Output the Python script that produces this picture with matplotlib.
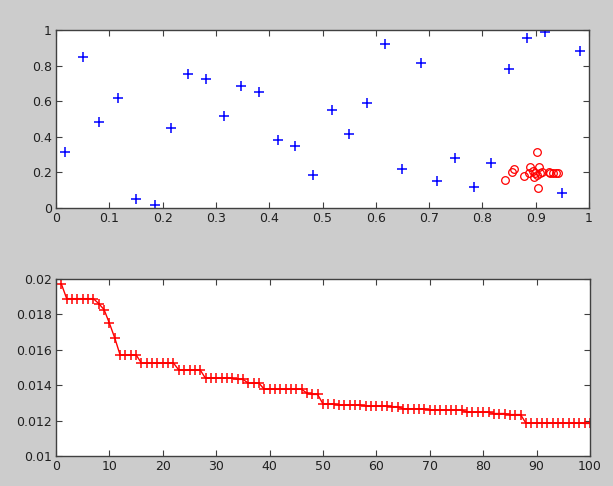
import matplotlib
matplotlib.use("Agg")
import matplotlib.pyplot as plt
import numpy as np

# population samples (blue) and the converged cluster (red)
pop_x = [0.017, 0.050, 0.081, 0.116, 0.150, 0.186, 0.216, 0.248, 0.281, 0.315,
         0.347, 0.381, 0.416, 0.448, 0.482, 0.517, 0.550, 0.583, 0.617, 0.650,
         0.685, 0.715, 0.749, 0.784, 0.816, 0.849, 0.884, 0.918, 0.950, 0.983]
pop_y = [0.315, 0.850, 0.483, 0.618, 0.050, 0.017, 0.450, 0.753, 0.725, 0.517,
         0.685, 0.652, 0.382, 0.348, 0.185, 0.550, 0.415, 0.588, 0.920, 0.221,
         0.816, 0.152, 0.283, 0.120, 0.251, 0.781, 0.953, 0.987, 0.084, 0.884]

best_x = [0.842, 0.856, 0.859, 0.878, 0.902, 0.904, 0.887, 0.890, 0.896, 0.899,
          0.906, 0.908, 0.902, 0.924, 0.927, 0.933, 0.938, 0.942, 0.895, 0.912]
best_y = [0.157, 0.204, 0.219, 0.180, 0.315, 0.110, 0.198, 0.229, 0.176, 0.198,
          0.229, 0.198, 0.185, 0.204, 0.198, 0.198, 0.198, 0.198, 0.210, 0.200]

# best fitness per iteration
iters = list(range(1, 101))
fitness = ([0.01972] + [0.01889] * 6 + [0.01861, 0.01827, 0.01750, 0.01667]
           + [0.01571] * 4 + [0.01525] * 7 + [0.01486] * 5 + [0.01439] * 6
           + [0.01433] * 2 + [0.01412] * 3 + [0.01377] * 8 + [0.01355]
           + [0.01348] * 2 + [0.01294] * 3 + [0.01288] * 5 + [0.01282] * 5
           + [0.01279] * 2 + [0.01267] * 5 + [0.01260] * 7 + [0.01247] * 5
           + [0.01240] * 3 + [0.01234] * 3 + [0.01186] * 11 + [0.01184] * 2)

plt.rcParams['font.family'] = 'DejaVu Sans'
plt.rcParams['font.size'] = 9

fig = plt.figure(figsize=(6.13, 4.86), dpi=100, facecolor='#cccccc')
ax1 = fig.add_axes([0.0914, 0.572, 0.8695, 0.3663])
ax2 = fig.add_axes([0.0914, 0.0617, 0.871, 0.3642])

ax1.plot(pop_x, pop_y, '+', color='#0000ff', ms=6.5, mew=1.1)
ax1.plot(best_x, best_y, 'o', mfc='none', mec='#ff0000', ms=5.5, mew=0.9)
ax1.set_xlim(0, 1)
ax1.set_ylim(0, 1)
ax1.set_xticks(np.arange(0, 1.01, 0.1))
ax1.set_xticklabels(['0', '0.1', '0.2', '0.3', '0.4', '0.5', '0.6', '0.7', '0.8', '0.9', '1'])
ax1.set_yticks(np.arange(0, 1.01, 0.2))
ax1.set_yticklabels(['0', '0.2', '0.4', '0.6', '0.8', '1'])

ax2.plot(iters, fitness, '-+', color='#ff0000', ms=6.5, mew=1.1, lw=1)
ax2.set_xlim(0, 100)
ax2.set_ylim(0.01, 0.02)
ax2.set_xticks(range(0, 101, 10))
ax2.set_yticks(np.arange(0.01, 0.0201, 0.002))
ax2.set_yticklabels(['0.01', '0.012', '0.014', '0.016', '0.018', '0.02'])

for ax in (ax1, ax2):
    ax.set_facecolor('white')
    for s in ax.spines.values():
        s.set_color('#404040')
        s.set_linewidth(1)
    ax.tick_params(direction='in', top=True, right=True, length=4,
                   width=0.8, color='#404040', labelcolor='#202020', pad=3)

fig.savefig('out.png', dpi=100, facecolor=fig.get_facecolor())
